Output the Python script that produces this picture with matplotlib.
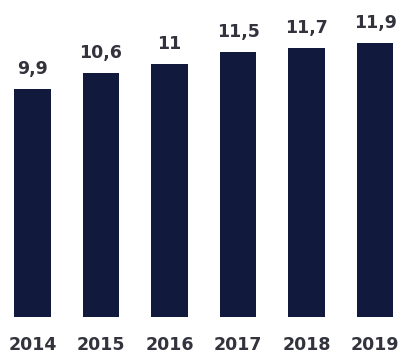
import matplotlib.pyplot as plt

# data
years = ["2014", "2015", "2016", "2017", "2018", "2019"]
values = [9.9, 10.6, 11, 11.5, 11.7, 11.9]
labels = ["9,9", "10,6", "11", "11,5", "11,7", "11,9"]

fig = plt.figure(figsize=(3.99, 3.58), dpi=100)
ax = fig.add_axes([0, 0.1145, 1, 0.8855])

x = list(range(len(years)))
bars = ax.bar(x, values, width=0.53, color="#111a3c")

# value labels above the bars
for b, lab in zip(bars, labels):
    ax.annotate(lab, (b.get_x() + b.get_width() / 2, b.get_height()),
                xytext=(0, 8), textcoords="offset points",
                ha="center", va="bottom", fontsize=12.5,
                fontweight="bold", color="#33333d")

ax.set_xticks(x)
ax.set_xticklabels(years, fontsize=12.5, fontweight="bold", color="#33333d")
ax.tick_params(axis="x", length=0, pad=14)
ax.set_yticks([])
for s in ax.spines.values():
    s.set_visible(False)

ax.set_xlim(-0.474, 5.35)
ax.set_ylim(0, 13.78)

fig.savefig("out.png", dpi=100)
